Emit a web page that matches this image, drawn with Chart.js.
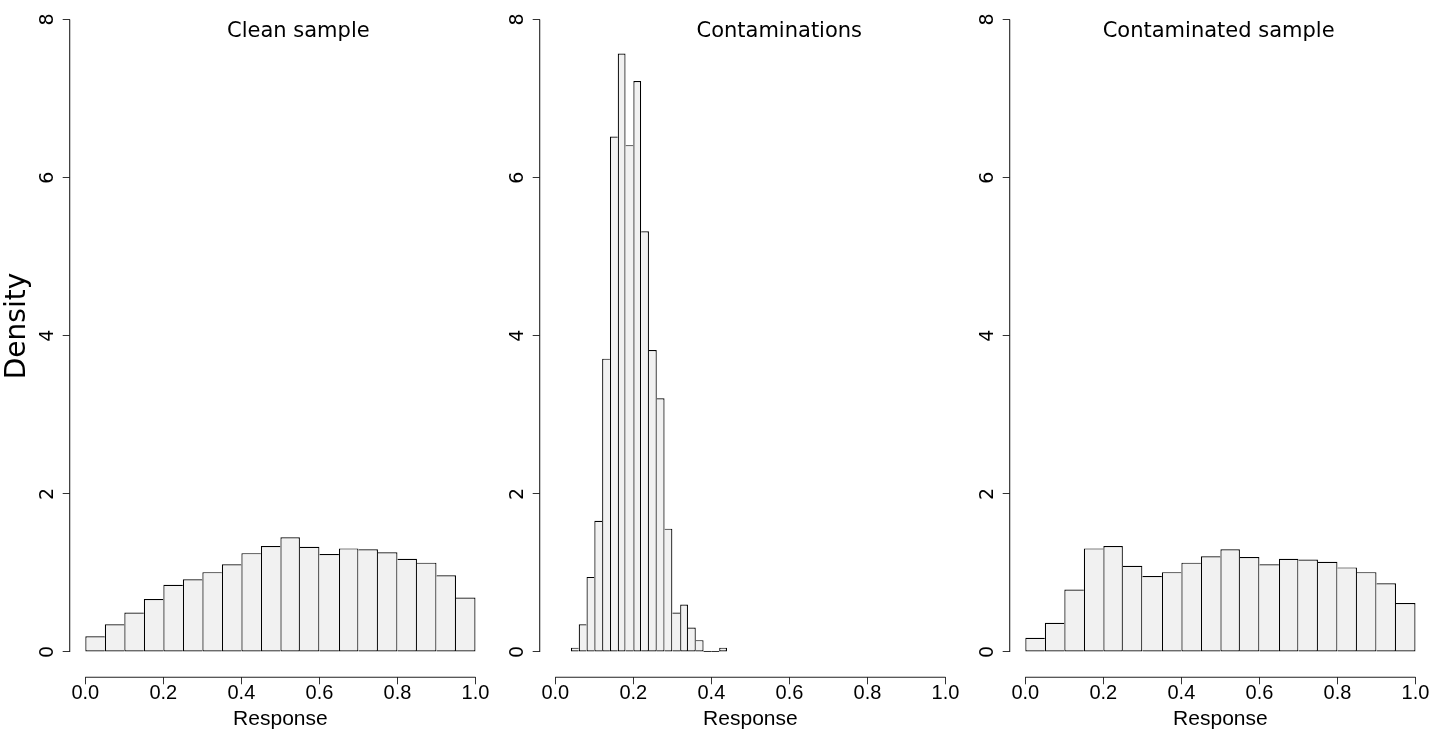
<!DOCTYPE html>
<html><head><meta charset="utf-8">
<script src="https://cdn.jsdelivr.net/npm/chart.js@4.4.1/dist/chart.umd.min.js"></script>
<style>
html,body{margin:0;padding:0;background:#fff;overflow:hidden}
#wrap{position:relative;width:1438px;height:733px;background:#fff}
canvas{position:absolute;top:0}
</style></head><body><div id="wrap">
<canvas id="c0" width="500" height="733" style="left:0px"></canvas>
<canvas id="c1" width="500" height="733" style="left:470px"></canvas>
<canvas id="c2" width="500" height="733" style="left:940px"></canvas>
</div>
<script>
// ---- data ----
const panelTitles = ["Clean sample", "Contaminations", "Contaminated sample"];
const xTickValues = [0, 0.2, 0.4, 0.6, 0.8, 1.0];
const yTickValues = [0, 2, 4, 6, 8];
const yAxisTitle = "Density";
const xAxisTitle = "Response";

const cleanBins = [0.025,0.075,0.125,0.175,0.225,0.275,0.325,0.375,0.425,0.475,0.525,0.575,0.625,0.675,0.725,0.775,0.825,0.875,0.925,0.975];
const cleanDensity = [0.20,0.35,0.50,0.67,0.85,0.92,1.01,1.11,1.25,1.34,1.45,1.33,1.24,1.31,1.30,1.26,1.18,1.13,0.97,0.69];

const contamBins = [0.05,0.07,0.09,0.11,0.13,0.15,0.17,0.19,0.21,0.23,0.25,0.27,0.29,0.31,0.33,0.35,0.37,0.39,0.41,0.43];
const contamDensity = [0.055,0.35,0.95,1.66,3.71,6.52,7.57,6.41,7.22,5.32,3.82,3.21,1.56,0.50,0.60,0.31,0.15,0,0,0.055];

const mixedBins = [0.025,0.075,0.125,0.175,0.225,0.275,0.325,0.375,0.425,0.475,0.525,0.575,0.625,0.675,0.725,0.775,0.825,0.875,0.925,0.975];
const mixedDensity = [0.18,0.37,0.79,1.31,1.34,1.09,0.96,1.01,1.13,1.21,1.30,1.20,1.11,1.18,1.17,1.14,1.07,1.01,0.87,0.62];

// ---- layout / style ----
const panelBins = [cleanBins, contamBins, mixedBins];
const panelDensity = [cleanDensity, contamDensity, mixedDensity];
const titleCenterValue = [0.546, 0.574, 0.4955];

function makeChart(idx) {
  const bins = panelBins[idx], dens = panelDensity[idx];
  const pts = bins.map((b, i) => ({ x: b, y: dens[i] }));
  const axesPlugin = {
    id: 'rAxes' + idx,
    afterDraw(chart) {
      const ctx = chart.ctx, xs = chart.scales.x, ys = chart.scales.y, ca = chart.chartArea;
      ctx.save();
      ctx.strokeStyle = '#222';
      ctx.lineWidth = 1.1;
      // y axis line (0..8)
      ctx.beginPath();
      ctx.moveTo(ca.left, ys.getPixelForValue(yTickValues[0]));
      ctx.lineTo(ca.left, ys.getPixelForValue(yTickValues[yTickValues.length - 1]));
      ctx.stroke();
      // x axis line (0..1)
      ctx.beginPath();
      ctx.moveTo(xs.getPixelForValue(xTickValues[0]), ca.bottom);
      ctx.lineTo(xs.getPixelForValue(xTickValues[xTickValues.length - 1]), ca.bottom);
      ctx.stroke();
      // baseline under empty bins
      ctx.lineWidth = 1;
      ctx.strokeStyle = '#333';
      pts.forEach((p, i) => {
        if (p.y === 0 && i > 0 && i < pts.length - 1) {
          const half = (pts[1].x - pts[0].x) / 2;
          ctx.beginPath();
          ctx.moveTo(xs.getPixelForValue(p.x - half), ys.getPixelForValue(0) - 0.5);
          ctx.lineTo(xs.getPixelForValue(p.x + half), ys.getPixelForValue(0) - 0.5);
          ctx.stroke();
        }
      });
      // y tick labels, rotated
      ctx.fillStyle = '#000';
      ctx.font = '19px "DejaVu Sans"';
      ctx.textAlign = 'center';
      ctx.textBaseline = 'middle';
      yTickValues.forEach(v => {
        ctx.save();
        ctx.translate(ca.left - 22, ys.getPixelForValue(v));
        ctx.rotate(-Math.PI / 2);
        ctx.fillText(String(v), 0, 0);
        ctx.restore();
      });
      // panel title
      ctx.font = '21px "DejaVu Sans"';
      ctx.textBaseline = 'alphabetic';
      ctx.fillText(panelTitles[idx], xs.getPixelForValue(titleCenterValue[idx]), 36.7);
      // y axis title
      if (idx === 0) {
        ctx.save();
        ctx.font = '28px "DejaVu Sans"';
        ctx.translate(25, 326);
        ctx.rotate(-Math.PI / 2);
        ctx.fillText(yAxisTitle, 0, 0);
        ctx.restore();
      }
      ctx.restore();
    }
  };
  return new Chart(document.getElementById('c' + idx), {
    type: 'bar',
    data: {
      datasets: [{
        data: pts,
        backgroundColor: '#f1f1f1',
        borderColor: '#000',
        borderSkipped: false,
        inflateAmount: 0,
        barPercentage: 1.0,
        categoryPercentage: 1.0,
        borderWidth: (c) => {
          const d = c.dataset.data, i = c.dataIndex;
          if (!d[i]) return 1.2;
          const h = d[i].y;
          const prev = i > 0 ? d[i - 1].y : -1;
          const next = i < d.length - 1 ? d[i + 1].y : -1;
          return { top: 1.2, bottom: 1.2, left: prev <= h ? 1.2 : 0, right: next < h ? 1.2 : 0 };
        }
      }]
    },
    options: {
      responsive: false,
      animation: false,
      devicePixelRatio: 1,
      layout: { padding: { left: 0, right: 8.9, top: 0, bottom: 0 } },
      plugins: { legend: { display: false }, tooltip: { enabled: false }, title: { display: false } },
      scales: {
        x: {
          type: 'linear',
          min: -0.04, max: 1.04,
          offset: false,
          afterBuildTicks: s => { s.ticks = xTickValues.map(v => ({ value: v })); },
          afterFit: s => { s.height = 55.7; },
          grid: { offset: false, drawOnChartArea: false, drawTicks: true, tickLength: 7, color: '#333', lineWidth: 1 },
          border: { display: false },
          ticks: {
            padding: 0,
            color: '#000',
            maxRotation: 0, minRotation: 0, autoSkip: false,
            font: { family: '"Liberation Sans"', size: 20, lineHeight: 0.9 },
            callback: v => Number(v).toFixed(1)
          },
          title: {
            display: true, text: xAxisTitle, color: '#000',
            font: { family: '"Liberation Sans"', size: 21, lineHeight: 1.2 },
            padding: { top: 0, bottom: 1 }
          }
        },
        y: {
          type: 'linear',
          min: -0.32, max: 8.246,
          afterBuildTicks: s => { s.ticks = yTickValues.map(v => ({ value: v })); },
          afterFit: s => { s.width = 69.7; },
          grid: { drawOnChartArea: false, drawTicks: true, tickLength: 7, color: '#333', lineWidth: 1 },
          border: { display: false },
          ticks: { display: false }
        }
      }
    },
    plugins: [axesPlugin]
  });
}
[0, 1, 2].forEach(makeChart);
</script>
</body></html>
